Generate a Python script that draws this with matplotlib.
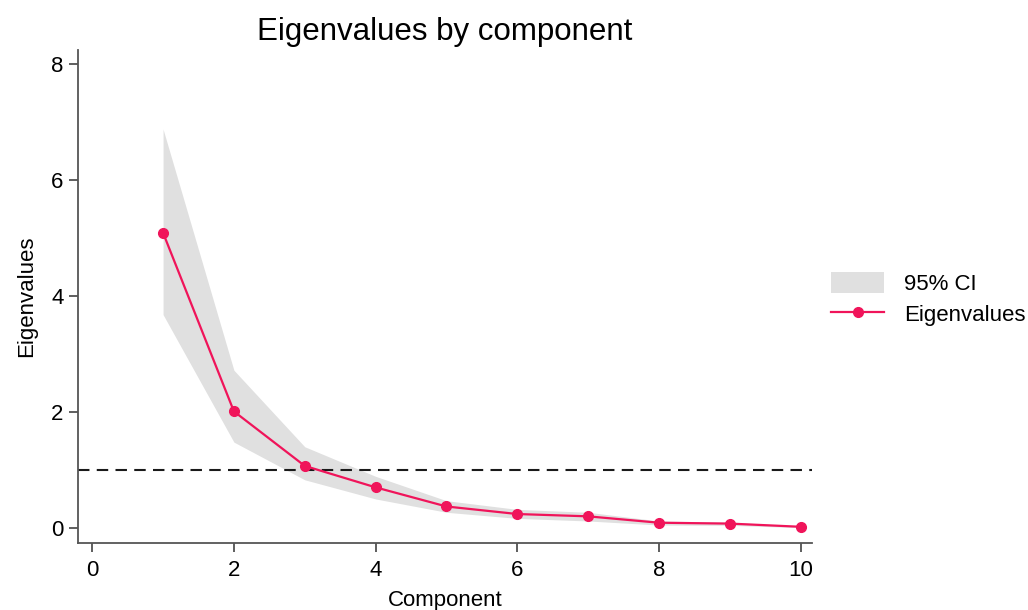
import matplotlib
matplotlib.use("Agg")
import matplotlib.pyplot as plt
from matplotlib.patches import Patch
from matplotlib.lines import Line2D

plt.rcParams['font.family'] = ['Liberation Sans', 'DejaVu Sans']

components = [1, 2, 3, 4, 5, 6, 7, 8, 9, 10]
eigenvalues = [5.09, 2.01, 1.07, 0.70, 0.37, 0.24, 0.20, 0.09, 0.075, 0.02]
ci_upper = [6.88, 2.72, 1.40, 0.89, 0.47, 0.32, 0.27, 0.12, 0.10, 0.03]
ci_lower = [3.68, 1.48, 0.83, 0.50, 0.27, 0.165, 0.12, 0.05, 0.045, 0.005]
x_ticks = [0, 2, 4, 6, 8, 10]
y_ticks = [0, 2, 4, 6, 8]

line_color = '#F0145A'
band_color = '#E0E0E0'

fig = plt.figure(figsize=(10.28, 6.10), dpi=100)
ax = fig.add_axes([0.0759, 0.1098, 0.7141, 0.808])

ax.fill_between(components, ci_lower, ci_upper, color=band_color, linewidth=0, zorder=1)
ax.axhline(1, color='#1a1a1a', linestyle=(0, (5.5, 3.5)), linewidth=1.5, zorder=2)
ax.plot(components, eigenvalues, color=line_color, linewidth=1.6, marker='o',
        markersize=7, zorder=3)

ax.set_xlim(-0.2, 10.16)
ax.set_ylim(-0.26, 8.24)
ax.set_xticks(x_ticks)
ax.set_yticks(y_ticks)
for s in ['top', 'right']:
    ax.spines[s].set_visible(False)
for s in ['left', 'bottom']:
    ax.spines[s].set_color('#555555')
    ax.spines[s].set_linewidth(1.3)
ax.tick_params(axis='both', direction='out', length=6.5, width=1.1, color='#333333',
               labelsize=16, pad=4)
ax.tick_params(axis='x', pad=6)
ax.set_xlabel('Component', fontsize=16, labelpad=6)
ax.set_ylabel('Eigenvalues', fontsize=16, labelpad=10)
ax.set_title('Eigenvalues by component', fontsize=22.5, pad=7)

handles = [Patch(facecolor=band_color, edgecolor='none', label='95% CI'),
           Line2D([0], [0], color=line_color, lw=1.6, marker='o', markersize=7,
                  label='Eigenvalues')]
fig.legend(handles=handles, loc='center left', bbox_to_anchor=(0.804, 0.510),
           frameon=False, fontsize=16, handlelength=2.4, handleheight=1.1,
           handletextpad=0.9, labelspacing=0.35, borderpad=0.2, borderaxespad=0)

fig.savefig('out.png', dpi=100)
